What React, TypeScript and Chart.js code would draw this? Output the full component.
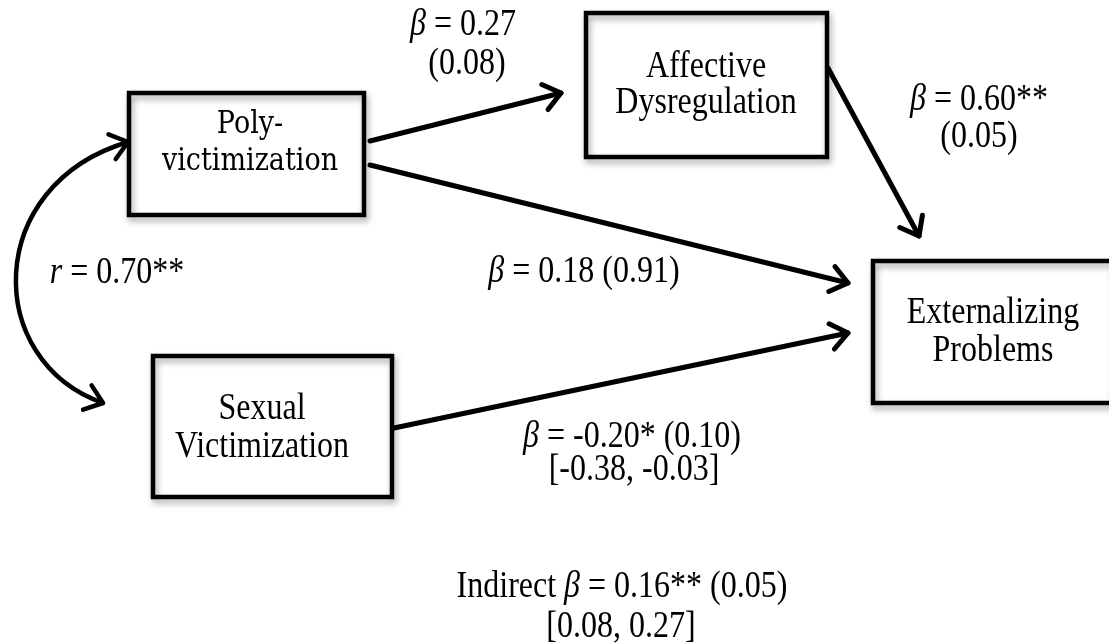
import React, { useEffect, useRef } from "react";
import { Chart, registerables } from "chart.js";

Chart.register(...registerables);

const W = 1109;
const H = 644;

// ---- Nodes (variables of the path model) ----
const nodeLabels: string[][] = [
  ["Poly-", "victimization"],
  ["Affective", "Dysregulation"],
  ["Externalizing", "Problems"],
  ["Sexual", "Victimization"],
];
const nodeFonts = ["DejaVu Serif", "Liberation Serif", "Liberation Serif", "Liberation Serif"];
const nodeLeft = [129, 586, 873, 153];
const nodeTop = [93, 13, 261, 356];
const nodeRight = [364, 827, 1113, 392];
const nodeBottom = [215, 157, 403, 497];
const nodeTextX = [250, 706, 993, 262];
const nodeTextY: number[][] = [
  [133, 170],
  [77, 113],
  [323, 361],
  [419, 457],
];

// ---- Directed paths ----
const pathStartX = [370, 370, 828, 394];
const pathStartY = [141, 165, 68, 428];
const pathEndX = [561, 848, 919, 848];
const pathEndY = [93, 283, 236, 333];

// ---- Correlation (double-headed curve) ----
const corrCurveX = [128, -17, -17, 103];
const corrCurveY = [142, 185, 361, 403];

// ---- Coefficient labels ({} = italic) ----
const coefLines: string[][] = [
  ["{β} = 0.27", "(0.08)"],
  ["{β} = 0.60**", "(0.05)"],
  ["{r} = 0.70**"],
  ["{β} = 0.18 (0.91)"],
  ["{β} = -0.20* (0.10)", "[-0.38, -0.03]"],
  ["Indirect {β} = 0.16** (0.05)", "[0.08, 0.27]"],
];
const coefX: number[][] = [[463, 467], [979, 979], [117], [584], [632, 634], [622, 621]];
const coefY: number[][] = [[35, 74], [110, 147], [283], [282], [447, 480], [597, 637]];

const TEXT_STRETCH = 1.16;

function parseSegments(s: string) {
  const segs: { t: string; i: boolean }[] = [];
  const re = /\{([^}]*)\}|([^{]+)/g;
  let m: RegExpExecArray | null;
  while ((m = re.exec(s))) {
    if (m[1] !== undefined) segs.push({ t: m[1], i: true });
    else segs.push({ t: m[2], i: false });
  }
  return segs;
}

function drawMixed(ctx: CanvasRenderingContext2D, s: string, cx: number, by: number, size: number, family: string) {
  const segs = parseSegments(s);
  const fontFor = (i: boolean) => `${i ? "italic " : ""}${size}px "${family}"`;
  let total = 0;
  const widths = segs.map((sg) => {
    ctx.font = fontFor(sg.i);
    const w = ctx.measureText(sg.t).width;
    total += w;
    return w;
  });
  let x = cx - total / 2;
  ctx.save();
  ctx.translate(0, by);
  ctx.scale(1, TEXT_STRETCH);
  ctx.textAlign = "left";
  ctx.textBaseline = "alphabetic";
  segs.forEach((sg, k) => {
    ctx.font = fontFor(sg.i);
    ctx.fillText(sg.t, x, 0);
    x += widths[k];
  });
  ctx.restore();
}

function drawHead(ctx: CanvasRenderingContext2D, x: number, y: number, ang: number) {
  const L = 21;
  const th = 0.66;
  ctx.beginPath();
  ctx.moveTo(x + L * Math.cos(ang + Math.PI - th), y + L * Math.sin(ang + Math.PI - th));
  ctx.lineTo(x, y);
  ctx.lineTo(x + L * Math.cos(ang + Math.PI + th), y + L * Math.sin(ang + Math.PI + th));
  ctx.stroke();
}

const diagramPlugin = {
  id: "pathDiagram",
  afterDatasetsDraw(chart: any) {
    const ctx: CanvasRenderingContext2D = chart.ctx;
    const sx = (v: number) => chart.scales.x.getPixelForValue(v);
    const sy = (v: number) => chart.scales.y.getPixelForValue(v);
    ctx.save();
    ctx.strokeStyle = "#000";
    ctx.fillStyle = "#000";
    ctx.lineCap = "round";
    ctx.lineJoin = "round";

    // arrowheads on directed paths
    ctx.lineWidth = 5;
    for (let i = 0; i < pathStartX.length; i++) {
      const x0 = sx(pathStartX[i]), y0 = sy(pathStartY[i]);
      const x1 = sx(pathEndX[i]), y1 = sy(pathEndY[i]);
      drawHead(ctx, x1, y1, Math.atan2(y1 - y0, x1 - x0));
    }

    // correlation curve
    const cx = corrCurveX.map(sx);
    const cy = corrCurveY.map(sy);
    ctx.lineWidth = 4.5;
    ctx.beginPath();
    ctx.moveTo(cx[0], cy[0]);
    ctx.bezierCurveTo(cx[1], cy[1], cx[2], cy[2], cx[3], cy[3]);
    ctx.stroke();
    drawHead(ctx, cx[0], cy[0], Math.atan2(cy[0] - cy[1], cx[0] - cx[1]));
    drawHead(ctx, cx[3], cy[3], Math.atan2(cy[3] - cy[2], cx[3] - cx[2]));

    // boxes
    for (let i = 0; i < nodeLabels.length; i++) {
      const l = sx(nodeLeft[i]), r = sx(nodeRight[i]);
      const t = sy(nodeTop[i]), b = sy(nodeBottom[i]);
      ctx.save();
      ctx.lineJoin = "miter";
      ctx.lineWidth = 4.5;
      ctx.shadowColor = "rgba(0,0,0,0.35)";
      ctx.shadowBlur = 6;
      ctx.shadowOffsetX = 2;
      ctx.shadowOffsetY = 4;
      ctx.strokeRect(l, t, r - l, b - t);
      ctx.restore();
      ctx.fillStyle = "#000";
      const size = nodeFonts[i] === "DejaVu Serif" ? 27 : 32;
      nodeLabels[i].forEach((line, k) => {
        drawMixed(ctx, line, sx(nodeTextX[i]), sy(nodeTextY[i][k]), size, nodeFonts[i]);
      });
    }

    // coefficient labels
    ctx.fillStyle = "#000";
    coefLines.forEach((lines, i) => {
      lines.forEach((line, k) => {
        drawMixed(ctx, line, sx(coefX[i][k]), sy(coefY[i][k]), 32, "Liberation Serif");
      });
    });
    ctx.restore();
  },
};

export default function App() {
  const ref = useRef<HTMLCanvasElement | null>(null);
  useEffect(() => {
    if (!ref.current) return;
    const datasets = pathStartX.map((_, i) => ({
      label: `path${i}`,
      data: [
        { x: pathStartX[i], y: pathStartY[i] },
        { x: pathEndX[i], y: pathEndY[i] },
      ],
      showLine: true,
      borderColor: "#000",
      borderWidth: 5,
      borderCapStyle: "round" as const,
      pointRadius: 0,
      fill: false,
    }));
    const chart = new Chart(ref.current, {
      type: "scatter",
      data: { datasets },
      options: {
        animation: false,
        responsive: false,
        devicePixelRatio: 1,
        layout: { padding: 0 },
        plugins: { legend: { display: false }, tooltip: { enabled: false } },
        events: [],
        scales: {
          x: { type: "linear", min: 0, max: W, display: false },
          y: { type: "linear", min: 0, max: H, reverse: true, display: false },
        },
      },
      plugins: [diagramPlugin],
    });
    return () => chart.destroy();
  }, []);
  return (
    <div style={{ position: "fixed", left: 0, top: 0, width: W, height: H, background: "#fff" }}>
      <canvas ref={ref} width={W} height={H} style={{ width: W, height: H, display: "block" }} />
    </div>
  );
}
